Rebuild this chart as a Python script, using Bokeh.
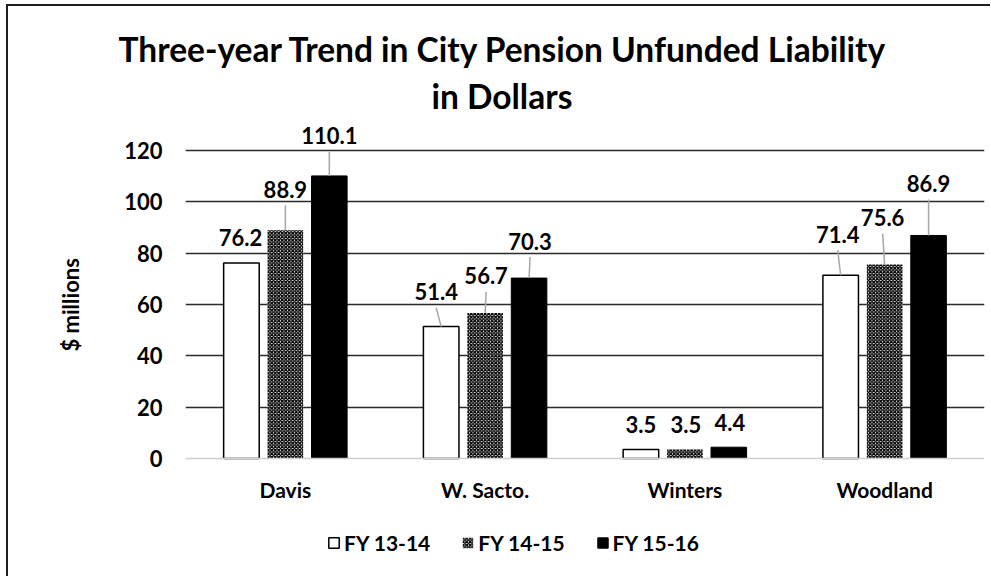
from bokeh.plotting import figure
from bokeh.models import (ColumnDataSource, FixedTicker, Range1d, Legend, LegendItem, Title)
from bokeh.embed import file_html
from bokeh.resources import INLINE
from bokeh.core.properties import value

# ---- data ----
cities = ["Davis", "W. Sacto.", "Winters", "Woodland"]
series_names = ["FY 13-14", "FY 14-15", "FY 15-16"]
fy13_14 = [76.2, 51.4, 3.5, 71.4]
fy14_15 = [88.9, 56.7, 3.5, 75.6]
fy15_16 = [110.1, 70.3, 4.4, 86.9]
y_ticks = [0, 20, 40, 60, 80, 100, 120]
title_line1 = "Three-year Trend in City Pension Unfunded Liability"
title_line2 = "in Dollars"
y_label = "$ millions"

# ---- label placement (pixels, relative to bar top) ----
label_dx_px = [[-1, -5, 0, -3], [0, 1, 1, -2], [0, 1, 1, 0]]
label_lift_px = [[25, 35, 25, 41], [41, 37, 25, 47], [40, 37, 25, 52]]

FONT = "Lato"
W, H = 990, 576
FRAME_L, FRAME_R = 185, 984              # page px of plot area
FRAME_T, FRAME_B = 118, 570
Y0_PX, YTOP_PX = 458, 150                # y=0 line, y=120 line
ymax_tick = y_ticks[-1]
ppu_y = (Y0_PX - YTOP_PX) / ymax_tick
ppu_x = (FRAME_R - FRAME_L) / len(cities)
y_end = (Y0_PX - FRAME_T) / ppu_y
y_start = -(FRAME_B - Y0_PX) / ppu_y

p = figure(width=W, height=H, x_range=Range1d(0, len(cities)), y_range=Range1d(y_start, y_end),
           output_backend="svg", toolbar_location=None, title_location=None,
           min_border_left=FRAME_L, min_border_right=W - FRAME_R,
           min_border_top=FRAME_T, min_border_bottom=H - FRAME_B)
p.styles = {"background": "linear-gradient(#1e1e1e,#1e1e1e) 6px 4px / 2px 100% no-repeat, "
                          "linear-gradient(#1e1e1e,#1e1e1e) 6px 4px / 100% 2px no-repeat, white"}
p.outline_line_color = None
p.background_fill_color = "white"
p.border_fill_color = None

# grid
p.xgrid.visible = False
p.ygrid.ticker = FixedTicker(ticks=y_ticks[1:])
p.ygrid.grid_line_color = "#2b2b2b"
p.ygrid.grid_line_width = 1.5

# axes
centers = [i + 0.5 for i in range(len(cities))]
p.xaxis.fixed_location = 0
p.xaxis.ticker = FixedTicker(ticks=centers)
p.xaxis.major_label_overrides = {c: name for c, name in zip(centers, cities)}
p.xaxis.axis_line_color = "#d0d0d0"
p.xaxis.axis_line_width = 1.5
p.xaxis.major_tick_line_color = None
p.xaxis.minor_tick_line_color = None
p.xaxis.major_label_standoff = 12
p.xaxis.major_label_text_font = FONT
p.xaxis.major_label_text_font_style = "bold"
p.xaxis.major_label_text_font_size = "21px"
p.xaxis.major_label_text_color = "black"

p.yaxis.ticker = FixedTicker(ticks=y_ticks)
p.yaxis.axis_line_color = None
p.yaxis.major_tick_line_color = None
p.yaxis.minor_tick_line_color = None
p.yaxis.major_label_standoff = 17
p.yaxis.major_label_text_font = FONT
p.yaxis.major_label_text_font_style = "bold"
p.yaxis.major_label_text_font_size = "22px"
p.yaxis.major_label_text_color = "black"

# bars
offsets = [-0.22, 0.0, 0.22]
bar_w = 0.178
series = [fy13_14, fy14_15, fy15_16]
styles = [
    dict(fill_color="white", line_color="black", line_width=1.5),
    dict(fill_color="white", line_color=None, hatch_pattern="diagonal_cross",
         hatch_color="black", hatch_scale=3.5, hatch_weight=1.4),
    dict(fill_color="black", line_color="black", line_width=1),
]
renderers = []
for s, (vals, off, st) in enumerate(zip(series, offsets, styles)):
    xs = [c + off for c in centers]
    src = ColumnDataSource(dict(x=xs, top=vals))
    r = p.vbar(x="x", top="top", bottom=0, width=bar_w, source=src, **st)
    renderers.append(r)

    # data labels with leader lines
    lx = [x + dx / ppu_x for x, dx in zip(xs, label_dx_px[s])]
    ly = [v + lift / ppu_y for v, lift in zip(vals, label_lift_px[s])]
    lab = ColumnDataSource(dict(x=lx, y=ly, t=[f"{v:.1f}" for v in vals]))
    p.text(x="x", y="y", text="t", source=lab, text_align="center", text_baseline="middle",
           text_font=value(FONT), text_font_style="bold", text_font_size="22px",
           text_color="black")
    x0, y0, x1, y1 = [], [], [], []
    for x, lxx, v, lift in zip(xs, lx, vals, label_lift_px[s]):
        if lift > 30:
            x0.append(lxx); y0.append(v + (lift - 16) / ppu_y)
            x1.append(x); y1.append(v)
    if x0:
        p.segment(x0=x0, y0=y0, x1=x1, y1=y1, line_color="#a6a6a6", line_width=1.5)

# legend (inside the plot area, below the category labels)
legend = Legend(items=[LegendItem(label=n, renderers=[r]) for n, r in zip(series_names, renderers)],
                orientation="horizontal", location=(142, 15))
legend.border_line_color = None
legend.background_fill_alpha = 0
legend.glyph_width = 13
legend.glyph_height = 13
legend.label_standoff = 4
legend.spacing = 31
legend.padding = 0
legend.margin = 0
legend.label_text_font = FONT
legend.label_text_font_style = "bold"
legend.label_text_font_size = "21px"
legend.label_text_color = "black"
p.add_layout(legend, "center")

# y axis title (as a side title so it can be positioned)
ty = Title(text=y_label, align="left", offset=219, standoff=76,
           text_font=FONT, text_font_style="bold", text_font_size="22px", text_color="black")
p.add_layout(ty, "left")

# chart title (two lines)
t2 = Title(text=title_line2, align="left", offset=246, standoff=6,
           text_font=FONT, text_font_style="bold", text_font_size="33.5px", text_color="black")
t1 = Title(text=title_line1, align="left", offset=-67, standoff=4,
           text_font=FONT, text_font_style="bold", text_font_size="33.5px", text_color="black")
p.add_layout(t2, "above")
p.add_layout(t1, "above")

open("out.html", "w").write(file_html(p, INLINE))
